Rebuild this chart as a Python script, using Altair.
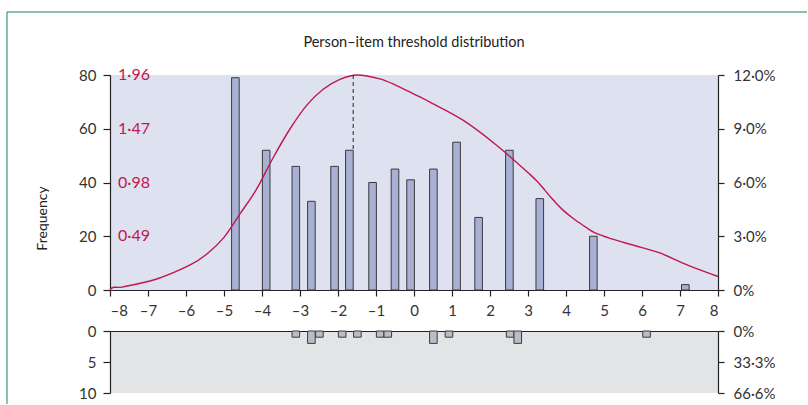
import altair as alt
import pandas as pd

# ---- data ----
person_x = [-4.70, -3.89, -3.11, -2.70, -2.09, -1.70, -1.09, -0.50, -0.09, 0.51, 1.12, 1.70, 2.51, 3.31, 4.72, 7.14]
person_freq = [79, 52, 46, 33, 46, 52, 40, 45, 41, 45, 55, 27, 52, 34, 20, 2]

item_x = [-3.11, -2.70, -2.49, -1.89, -1.49, -0.89, -0.69, 0.51, 0.92, 2.53, 2.73, 6.12]
item_count = [1, 2, 1, 1, 1, 1, 1, 2, 1, 1, 2, 1]

curve_x = [-8.0, -7.9, -7.65, -6.77, -5.89, -5.45, -5.0, -4.58, -4.14, -3.70, -3.26, -2.82, -2.39, -1.95,
           -1.50, -0.9, -0.46, 0.0, 0.42, 1.30, 2.18, 3.05, 3.30, 3.60, 3.90, 4.20, 4.50, 4.75, 5.10,
           5.59, 6.00, 6.47, 7.00, 7.35, 8.0]
curve_info = [0.005, 0.025, 0.029, 0.100, 0.228, 0.328, 0.480, 0.693, 0.921, 1.210, 1.470, 1.685, 1.830, 1.920,
              1.960, 1.925, 1.864, 1.786, 1.713, 1.546, 1.318, 1.054, 0.968, 0.845, 0.735, 0.649, 0.578, 0.522,
              0.478, 0.426, 0.387, 0.338, 0.257, 0.206, 0.123]

info_ticks = [0.49, 0.98, 1.47, 1.96]
freq_ticks = [0, 20, 40, 60, 80]
pct_labels = ["0%", "3·0%", "6·0%", "9·0%", "12·0%"]
item_ticks = [0, 5, 10]
item_pct_labels = ["0%", "33·3%", "66·6%"]
x_ticks = list(range(-8, 9))

peak_x = -1.60
peak_bar_freq = 52
title_text = "Person–item threshold distribution"

FREQ_MAX = 80
INFO_MAX = 1.96
ITEM_MAX = 10
HALF_W = 0.1

FONT = "Lato"
RED = "#c2174d"
GREEN = "#1f7f4c"
AXIS = "#222222"

W, H_TOP, H_BOT = 608, 215, 62

person_df = pd.DataFrame({"x": person_x, "freq": person_freq})
item_df = pd.DataFrame({"x": item_x, "n": item_count})
curve_df = pd.DataFrame({"x": curve_x, "info": curve_info})
info_df = pd.DataFrame({"info": info_ticks, "xpos": [-8] * len(info_ticks)})
peak_df = pd.DataFrame({"x": [peak_x], "y": [max(curve_info) * FREQ_MAX / INFO_MAX], "y2": [peak_bar_freq]})
dummy = pd.DataFrame({"v": [0, FREQ_MAX]})
dummy2 = pd.DataFrame({"v": [0, ITEM_MAX]})
one = alt.Data(values=[{"a": 1}])

x_scale = alt.Scale(domain=[-8, 8], nice=False, zero=False)
y_top_scale = alt.Scale(domain=[0, FREQ_MAX], nice=False)
y_bot_scale = alt.Scale(domain=[0, ITEM_MAX], nice=False, reverse=True)

x_label_expr = "datum.value < 0 ? '–' + (-datum.value) : '' + datum.value"

x_axis_top = alt.Axis(values=x_ticks, labelExpr=x_label_expr, tickSize=6, labelPadding=7,
                      labelFontSize=15, grid=False, title=None)
y_axis_top = alt.Axis(values=freq_ticks, title="Frequency", titleFontSize=14, titleFontWeight="normal",
                      titleX=-68, titleY=143, titleAngle=270, titleAlign="center", titleBaseline="middle",
                      tickSize=7, labelPadding=7, labelFontSize=15, grid=False)

X = lambda f: alt.X(f, scale=x_scale, axis=x_axis_top, title=None)
Y = lambda f: alt.Y(f, scale=y_top_scale, axis=y_axis_top, title="Frequency")

bars = alt.Chart(person_df).transform_calculate(
    lo=f"datum.x - {HALF_W}", hi=f"datum.x + {HALF_W}", zero="0"
).mark_bar(fill="#a8b1d3", stroke="#3a3a3a", strokeWidth=1).encode(
    x=X("lo:Q"), x2="hi:Q", y=Y("freq:Q"), y2="zero:Q"
)

curve = alt.Chart(curve_df).transform_calculate(
    f=f"datum.info * {FREQ_MAX} / {INFO_MAX}"
).mark_line(color=RED, strokeWidth=1.4, interpolate="cardinal").encode(
    x=X("x:Q"), y=Y("f:Q")
)

peak_rule = alt.Chart(peak_df).mark_rule(color="#222", strokeWidth=1, strokeDash=[4, 3]).encode(
    x=X("x:Q"), y=Y("y:Q"), y2="y2:Q"
)

info_text = alt.Chart(info_df).transform_calculate(
    f=f"datum.info * {FREQ_MAX} / {INFO_MAX}",
    label="replace(format(datum.info, '.2f'), '.', '·')"
).mark_text(align="left", baseline="middle", dx=8, color=RED, fontSize=16, font=FONT).encode(
    x=X("xpos:Q"), y=Y("f:Q"), text="label:N"
)

title_mark = alt.Chart(one).mark_text(
    text=title_text, font=FONT, fontSize=14.5, color="#222", align="center", baseline="middle"
).encode(x=alt.value(W / 2), y=alt.value(-32))

frame_h = alt.Chart(one).mark_rule(color=GREEN, strokeWidth=1.2).encode(
    x=alt.value(-103), x2=alt.value(697), y=alt.value(-63)
)
frame_v = alt.Chart(one).mark_rule(color="#3f9a6a", strokeWidth=1.2).encode(
    x=alt.value(-103), y=alt.value(-63), y2=alt.value(329)
)

right_top = alt.Chart(dummy).mark_point(opacity=0).encode(
    y=alt.Y("v:Q", scale=alt.Scale(domain=[0, FREQ_MAX], nice=False),
            axis=alt.Axis(orient="right", values=freq_ticks, title=None, grid=False, tickSize=6,
                          labelPadding=9, labelFontSize=15,
                          labelExpr=f"{pct_labels}[datum.value / 20]"))
)

top = alt.layer(
    alt.layer(bars, curve, peak_rule, info_text, title_mark, frame_h, frame_v),
    right_top
).resolve_scale(y="independent").properties(
    width=W, height=H_TOP, view=alt.ViewBackground(fill="#dee1ef", strokeWidth=0)
)

# ---- bottom panel: item thresholds ----
x_axis_bot = alt.Axis(orient="top", labels=False, ticks=False, domain=True, grid=False, title=None)
y_axis_bot = alt.Axis(values=item_ticks, title=None, tickSize=7, labelPadding=7, labelFontSize=15, grid=False)

item_bars = alt.Chart(item_df).transform_calculate(
    lo=f"datum.x - {HALF_W}", hi=f"datum.x + {HALF_W}", zero="0"
).mark_bar(fill="#b7bec7", stroke="#3a3a3a", strokeWidth=1).encode(
    x=alt.X("lo:Q", scale=x_scale, axis=x_axis_bot), x2="hi:Q",
    y=alt.Y("n:Q", scale=y_bot_scale, axis=y_axis_bot), y2="zero:Q"
)

right_bot = alt.Chart(dummy2).mark_point(opacity=0).encode(
    y=alt.Y("v:Q", scale=alt.Scale(domain=[0, ITEM_MAX], nice=False, reverse=True),
            axis=alt.Axis(orient="right", values=item_ticks, title=None, grid=False, tickSize=6,
                          labelPadding=9, labelFontSize=15,
                          labelExpr=f"{item_pct_labels}[datum.value / 5]"))
)

bottom = alt.layer(item_bars, right_bot).resolve_scale(y="independent").properties(
    width=W, height=H_BOT, view=alt.ViewBackground(fill="#e3e4e6", strokeWidth=0)
)

chart = alt.vconcat(top, bottom, spacing=41, bounds="flush").properties(
    padding={"left": 6, "top": 11, "right": 0, "bottom": 0}
).configure_axis(
    labelFont=FONT, titleFont=FONT, domainColor=AXIS, tickColor=AXIS, labelColor="#333",
    titleColor="#222", domainWidth=1.2, tickWidth=1.2
).configure_view(strokeWidth=0)

chart.save("out.html", embed_options={"renderer": "svg", "actions": False})
